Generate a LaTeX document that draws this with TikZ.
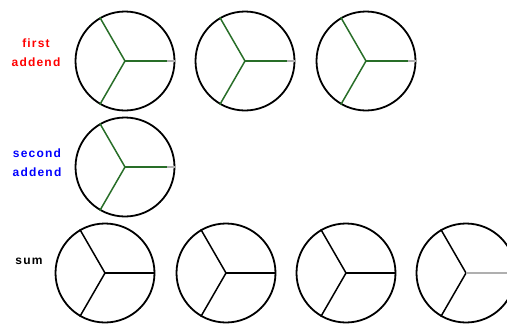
\documentclass[tikz,border=0pt]{standalone}
\usepackage{fontspec}
\newfontfamily\lblfont[LetterSpace=10]{Liberation Sans}
\usetikzlibrary{calc}
\definecolor{spokegreen}{RGB}{40,110,40}
\definecolor{tipgray}{RGB}{175,175,175}

\begin{document}
\begin{tikzpicture}[x=1pt,y=1pt,
                    pie/.style={circle,draw,line width=1.8pt,minimum size=99pt,inner sep=0pt},
                    lbl/.style={font=\lblfont\bfseries\fontsize{12}{19}\selectfont,align=center},
                    spoke/.style={line width=1.5pt}]
  \useasboundingbox (0,0) rectangle (507,-325);
  % first addend
  \node[lbl,red] (firstlbl) at (36,-53) {first\\addend};
  \node[pie] (f1) at (125,-61) {};
  \node[pie] (f2) at (245,-61) {};
  \node[pie] (f3) at (366,-61) {};
  % second addend
  \node[lbl,blue] (secondlbl) at (37,-163) {second\\addend};
  \node[pie] (s1) at (125,-167) {};
  % sum
  \node[lbl] (sumlbl) at (29,-261) {sum};
  \node[pie] (u1) at (105,-273) {};
  \node[pie] (u2) at (226,-273) {};
  \node[pie] (u3) at (346,-273) {};
  \node[pie] (u4) at (466,-273) {};
  % spokes
  \foreach \p in {f1,f2,f3,s1} {
    \draw[spoke,tipgray] (\p.center) -- (\p.east);
    \draw[spoke,spokegreen] (\p.center) -- ($(\p.center)!0.84!(\p.east)$);
    \draw[spoke,spokegreen] (\p.120) -- (\p.center) -- (\p.240);
  }
  \foreach \p in {u1,u2,u3} {
    \draw[spoke] (\p.120) -- (\p.center) -- (\p.240);
    \draw[spoke] (\p.center) -- (\p.east);
  }
  \draw[spoke] (u4.120) -- (u4.center) -- (u4.240);
  \draw[spoke,tipgray] (u4.center) -- (u4.east);
\end{tikzpicture}
\end{document}
